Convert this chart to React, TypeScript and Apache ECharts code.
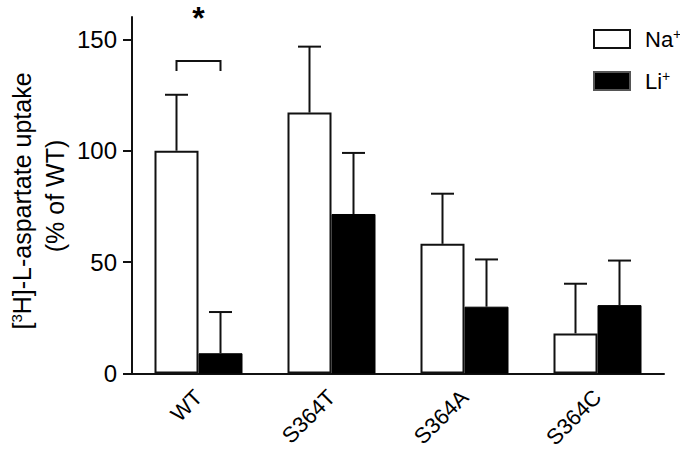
import React, { useEffect, useRef } from "react";
import * as echarts from "echarts";

const categories = ["WT", "S364T", "S364A", "S364C"];
const naValues = [100, 117.1, 58.2, 18.0];
const naUpper = [125.1, 146.7, 80.7, 40.3];
const liValues = [9.1, 71.6, 30.0, 30.7];
const liUpper = [27.6, 99.0, 51.2, 50.7];
const yTicks = [0, 50, 100, 150];
// significance bracket: category index, bracket height, leg bottom
const sigMarks = [[0, 140.3, 135.8]];
const sigLabel = "*";

const FONT = "'Liberation Sans', Arial, Helvetica, sans-serif";

export default function App() {
  const ref = useRef<HTMLDivElement>(null);
  useEffect(() => {
    if (!ref.current) return;
    const chart = echarts.init(ref.current, undefined, { renderer: "svg" });
    const HALF = 22;
    const errSeries = (name: string, vals: number[], ups: number[], dir: number) => ({
      type: "custom",
      name: name + "-err",
      silent: true,
      z: 5,
      data: vals.map((v, i) => [i, v, ups[i]]),
      encode: { x: 0, y: [1, 2] },
      renderItem: (params: any, api: any) => {
        const i = api.value(0);
        const p0 = api.coord([i, api.value(1)]);
        const p1 = api.coord([i, api.value(2)]);
        const x = p0[0] + dir * HALF;
        return {
          type: "group",
          children: [
            { type: "line", shape: { x1: x, y1: p0[1], x2: x, y2: p1[1] }, style: { stroke: "#111", lineWidth: 2 } },
            { type: "line", shape: { x1: x - 11.5, y1: p1[1], x2: x + 11.5, y2: p1[1] }, style: { stroke: "#111", lineWidth: 2 } },
          ],
        };
      },
    });
    chart.setOption({
      animation: false,
      textStyle: { fontFamily: FONT },
      grid: { left: 132, right: 16, top: 17, bottom: 76.7, containLabel: false },
      legend: {
        orient: "vertical",
        left: 588,
        top: 22,
        itemWidth: 36,
        itemHeight: 18,
        itemGap: 19,
        icon: "rect",
        selectedMode: false,
        data: [
          { name: "Na+", itemStyle: { color: "#fff", borderColor: "#111", borderWidth: 2 } },
          { name: "Li+", itemStyle: { color: "#000", borderColor: "#555", borderWidth: 2 } },
        ],
        formatter: (n: string) => (n === "Na+" ? "{b|Na}{s|+}" : "{b|Li}{s|+}"),
        textStyle: {
          rich: {
            b: { fontSize: 22, color: "#000", fontFamily: FONT, padding: [0, 0, 0, 10], lineHeight: 24 },
            s: { fontSize: 14, color: "#000", fontFamily: FONT, verticalAlign: "top", lineHeight: 24 },
          },
        },
      },
      xAxis: {
        type: "category",
        data: categories,
        axisLine: { lineStyle: { color: "#111", width: 2 } },
        axisTick: { show: false },
        axisLabel: { rotate: 45, fontSize: 22, color: "#000", margin: 20, fontFamily: FONT },
      },
      yAxis: {
        type: "value",
        min: 0,
        max: 160,
        interval: 50,
        splitLine: { show: false },
        axisLine: { show: true, lineStyle: { color: "#111", width: 2 } },
        axisTick: { show: true, length: 9, lineStyle: { width: 2, color: "#111" }, customValues: yTicks },
        axisLabel: { fontSize: 24, color: "#000", margin: 15, fontFamily: FONT, customValues: yTicks },
      },
      series: [
        {
          type: "bar",
          name: "Na+",
          data: naValues,
          barWidth: 44,
          barGap: "0%",
          itemStyle: { color: "#fff", borderColor: "#111", borderWidth: 2 },
        },
        {
          type: "bar",
          name: "Li+",
          data: liValues,
          barWidth: 44,
          barGap: "0%",
          itemStyle: { color: "#000", borderColor: "#000", borderWidth: 1 },
        },
        errSeries("Na+", naValues, naUpper, -1),
        errSeries("Li+", liValues, liUpper, 1),
        {
          type: "custom",
          name: "sig",
          silent: true,
          clip: false,
          data: sigMarks,
          encode: { x: 0, y: [1, 2] },
          renderItem: (params: any, api: any) => {
            const i = api.value(0);
            const top = api.coord([i, api.value(1)]);
            const leg = api.coord([i, api.value(2)]);
            const x1 = top[0] - HALF;
            const x2 = top[0] + HALF;
            return {
              type: "group",
              children: [
                {
                  type: "polyline",
                  shape: { points: [[x1, leg[1]], [x1, top[1]], [x2, top[1]], [x2, leg[1]]] },
                  style: { stroke: "#111", lineWidth: 2, fill: null },
                },
                {
                  type: "text",
                  x: top[0],
                  y: top[1] - 56,
                  style: {
                    text: sigLabel,
                    fontSize: 32,
                    lineHeight: 26,
                    fontWeight: "bold",
                    fill: "#000",
                    align: "center",
                    verticalAlign: "top",
                    fontFamily: FONT,
                  },
                },
              ],
            };
          },
        },
      ],
      graphic: [
        {
          type: "text",
          x: 22,
          y: 201,
          rotation: Math.PI / 2,
          style: {
            text: "{n|[}{s|3}{n|H]-L-aspartate uptake}",
            align: "center",
            verticalAlign: "middle",
            fontSize: 25,
            fill: "#000",
            fontFamily: FONT,
            rich: {
              n: { fontSize: 25, fill: "#000", fontFamily: FONT, lineHeight: 27 },
              s: { fontSize: 15, fill: "#000", verticalAlign: "top", fontFamily: FONT, lineHeight: 27 },
            },
          },
        },
        {
          type: "text",
          x: 55,
          y: 196,
          rotation: Math.PI / 2,
          style: { text: "(% of WT)", align: "center", verticalAlign: "middle", fontSize: 25, fill: "#000", fontFamily: FONT },
        },
      ],
    });
    return () => chart.dispose();
  }, []);
  return <div ref={ref} style={{ width: 680, height: 451, position: "absolute", left: 0, top: 0 }} />;
}
